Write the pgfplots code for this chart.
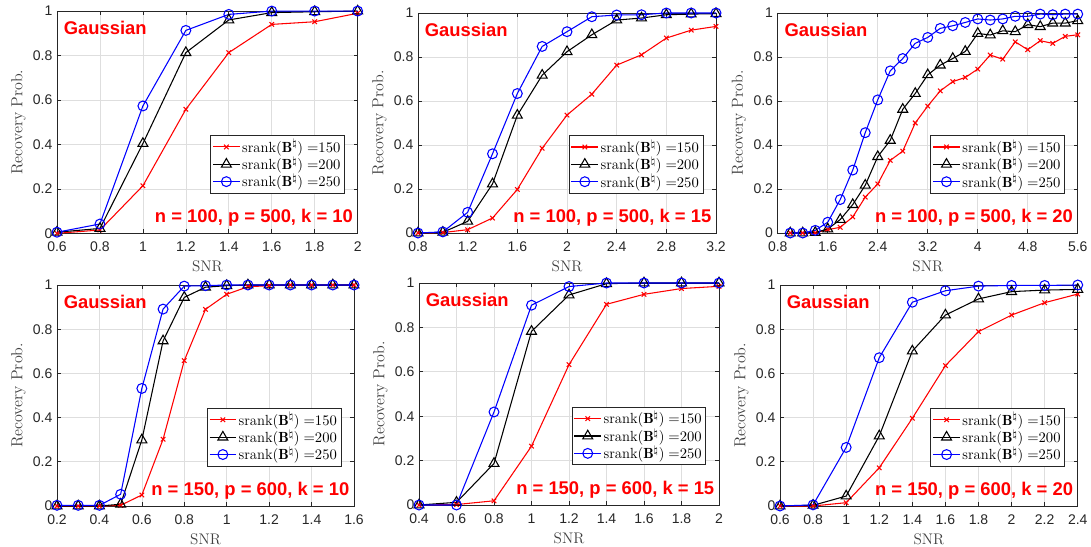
\documentclass[border=0pt]{standalone}
\usepackage{fontspec}
\usepackage{pgfplots}
\pgfplotsset{compat=1.18}
\newfontfamily\arialfont{Liberation Sans}

\newcommand{\tickfont}{\arialfont\fontsize{10.5}{12}\selectfont}
\newcommand{\notefont}{\arialfont\bfseries\fontsize{13.8}{16}\selectfont}

\pgfplotsset{
  panel/.style={
    scale only axis, anchor=south west, clip=false,
    ymin=0, ymax=1, ytick={0,0.2,0.4,0.6,0.8,1},
    grid=major, grid style={black!13, line width=0.5pt},
    axis line style={black!85, line width=0.5pt},
    tick style={black!85, line width=0.5pt},
    tick align=inside, major tick length=3pt,
    tick label style={font=\tickfont, text=black!85},
    x tick label style={yshift=-3pt},
    /pgf/number format/assume math mode=true,
    xlabel={SNR}, ylabel={Recovery Prob.},
    xlabel style={font=\fontsize{11.5}{13}\selectfont, text=black!75,
      at={([yshift=-25pt]axis description cs:0.5,0)}, anchor=center},
    ylabel style={font=\fontsize{12}{14}\selectfont, text=black!75,
      at={([xshift=-29pt]axis description cs:0,0.5)}, anchor=center},
    legend cell align=left,
    legend image code/.code={\draw[mark repeat=2,mark phase=2,##1] plot coordinates {(0pt,0pt) (10pt,0pt) (20pt,0pt)};},
    legend style={at={(0.957,0.18)}, anchor=south east, draw=black!85, line width=0.5pt,
      font=\fontsize{11}{13}\selectfont, inner sep=1.5pt, row sep=-1pt,
      nodes={inner sep=1.5pt, text=black}},
  },
  sr150/.style={red, line width=0.8pt, mark=x, mark size=2.4pt, mark options={solid}},
  sr200/.style={black, line width=0.8pt, mark=triangle, mark size=4.3pt, mark options={solid}},
  sr250/.style={blue, line width=0.8pt, mark=o, mark size=3.7pt, mark options={solid}},
}
\newcommand{\legs}{%
  \addlegendentry{$\mathrm{srank}(\mathbf{B}^{\natural})\;{=}150$}
  \addlegendentry{$\mathrm{srank}(\mathbf{B}^{\natural})\;{=}200$}
  \addlegendentry{$\mathrm{srank}(\mathbf{B}^{\natural})\;{=}250$}}
\newcommand{\notes}[1]{%
  \node[anchor=west, text=red, font=\notefont, inner sep=0pt] at (rel axis cs:0.022,0.925) {Gaussian};
  \node[anchor=east, text=red, font=\notefont, inner sep=0pt] at (rel axis cs:0.985,0.07) {#1};}

\begin{document}
\begin{tikzpicture}
\useasboundingbox (0pt,0pt) rectangle (818.25pt,409.5pt);

% ---- top row ----
\begin{axis}[panel, at={(42.75pt,234.5pt)}, width=225.5pt, height=166.7pt,
  xmin=0.6, xmax=2, xtick={0.6,0.8,1,1.2,1.4,1.6,1.8,2}]
\addplot[sr150] coordinates {(0.6,0) (0.8,0.015) (1.0,0.214) (1.2,0.558) (1.4,0.813) (1.6,0.94) (1.8,0.952) (2.0,0.99)};
\addplot[sr200] coordinates {(0.6,0.005) (0.8,0.022) (1.0,0.404) (1.2,0.813) (1.4,0.96) (1.6,0.993) (1.8,0.997) (2.0,1)};
\addplot[sr250] coordinates {(0.6,0.005) (0.8,0.042) (1.0,0.573) (1.2,0.913) (1.4,0.985) (1.6,1) (1.8,1) (2.0,1)};
\legs
\notes{n = 100, p = 500, k = 10}
\end{axis}

\begin{axis}[panel, at={(313.5pt,234.75pt)}, width=223.5pt, height=165pt,
  xmin=0.8, xmax=3.2, xtick={0.8,1.2,1.6,2,2.4,2.8,3.2}]
\addplot[sr150] coordinates {(0.8,0) (1.0,0.002) (1.2,0.015) (1.4,0.068) (1.6,0.198) (1.8,0.385) (2.0,0.536) (2.2,0.631) (2.4,0.763) (2.6,0.81) (2.8,0.886) (3.0,0.922) (3.2,0.939)};
\addplot[sr200] coordinates {(0.8,0) (1.0,0.003) (1.2,0.053) (1.4,0.223) (1.6,0.535) (1.8,0.717) (2.0,0.824) (2.2,0.901) (2.4,0.968) (2.6,0.977) (2.8,0.992) (3.0,0.995) (3.2,0.997)};
\addplot[sr250] coordinates {(0.8,0) (1.0,0.005) (1.2,0.094) (1.4,0.36) (1.6,0.634) (1.8,0.848) (2.0,0.915) (2.2,0.983) (2.4,0.991) (2.6,0.992) (2.8,1) (3.0,1) (3.2,1)};
\legs
\notes{n = 100, p = 500, k = 15}
\end{axis}

\begin{axis}[panel, at={(583.3pt,234.75pt)}, width=225pt, height=165pt,
  xmin=0.8, xmax=5.6, xtick={0.8,1.6,2.4,3.2,4,4.8,5.6}]
\addplot[sr150] coordinates {(1.0,0) (1.2,0) (1.4,0) (1.6,0.015) (1.8,0.026) (2.0,0.073) (2.2,0.163) (2.4,0.223) (2.6,0.33) (2.8,0.372) (3.0,0.5) (3.2,0.577) (3.4,0.646) (3.6,0.688) (3.8,0.707) (4.0,0.745) (4.2,0.809) (4.4,0.79) (4.6,0.869) (4.8,0.833) (5.0,0.874) (5.2,0.862) (5.4,0.894) (5.6,0.901)};
\addplot[sr200] coordinates {(1.0,0) (1.2,0) (1.4,0.002) (1.6,0.018) (1.8,0.061) (2.0,0.129) (2.2,0.217) (2.4,0.347) (2.6,0.421) (2.8,0.562) (3.0,0.634) (3.2,0.719) (3.4,0.763) (3.6,0.793) (3.8,0.825) (4.0,0.907) (4.2,0.9) (4.4,0.919) (4.6,0.915) (4.8,0.947) (5.0,0.938) (5.2,0.954) (5.4,0.954) (5.6,0.965)};
\addplot[sr250] coordinates {(1.0,0) (1.2,0) (1.4,0.012) (1.6,0.049) (1.8,0.152) (2.0,0.286) (2.2,0.456) (2.4,0.605) (2.6,0.737) (2.8,0.793) (3.0,0.862) (3.2,0.889) (3.4,0.93) (3.6,0.942) (3.8,0.957) (4.0,0.973) (4.2,0.968) (4.4,0.973) (4.6,0.985) (4.8,0.985) (5.0,0.995) (5.2,0.992) (5.4,0.995) (5.6,0.995)};
\legs
\notes{n = 100, p = 500, k = 20}
\end{axis}

% ---- bottom row ----
\begin{axis}[panel, at={(42.75pt,30pt)}, width=222.75pt, height=165.75pt,
  xmin=0.2, xmax=1.6, xtick={0.2,0.4,0.6,0.8,1,1.2,1.4,1.6}]
\addplot[sr150] coordinates {(0.2,0) (0.3,0) (0.4,0) (0.5,0.003) (0.6,0.05) (0.7,0.302) (0.8,0.658) (0.9,0.89) (1.0,0.958) (1.1,0.992) (1.2,0.997) (1.3,1) (1.4,1) (1.5,1) (1.6,1)};
\addplot[sr200] coordinates {(0.2,0) (0.3,0) (0.4,0) (0.5,0.008) (0.6,0.299) (0.7,0.747) (0.8,0.944) (0.9,0.99) (1.0,0.997) (1.1,1) (1.2,1) (1.3,1) (1.4,1) (1.5,1) (1.6,1)};
\addplot[sr250] coordinates {(0.2,0.003) (0.3,0.003) (0.4,0.003) (0.5,0.053) (0.6,0.532) (0.7,0.891) (0.8,0.995) (0.9,0.997) (1.0,1) (1.1,1) (1.2,1) (1.3,1) (1.4,1) (1.5,1) (1.6,1)};
\legs
\notes{n = 150, p = 600, k = 10}
\end{axis}

\begin{axis}[panel, at={(314.25pt,30.75pt)}, width=225pt, height=166.5pt,
  xmin=0.4, xmax=2, xtick={0.4,0.6,0.8,1,1.2,1.4,1.6,1.8,2}]
\addplot[sr150] coordinates {(0.4,0) (0.6,0.002) (0.8,0.019) (1.0,0.265) (1.2,0.632) (1.4,0.904) (1.6,0.949) (1.8,0.975) (2.0,0.985)};
\addplot[sr200] coordinates {(0.4,0) (0.6,0.012) (0.8,0.187) (1.0,0.782) (1.2,0.946) (1.4,0.997) (1.6,1) (1.8,1) (2.0,1)};
\addplot[sr250] coordinates {(0.4,0) (0.6,0) (0.8,0.419) (1.0,0.9) (1.2,0.984) (1.4,1) (1.6,1) (1.8,1) (2.0,1)};
\legs
\notes{n = 150, p = 600, k = 15}
\end{axis}

\begin{axis}[panel, at={(585pt,30pt)}, width=223.3pt, height=165.75pt,
  xmin=0.6, xmax=2.4, xtick={0.6,0.8,1,1.2,1.4,1.6,1.8,2,2.2,2.4}]
\addplot[sr150] coordinates {(0.6,0) (0.8,0) (1.0,0.015) (1.2,0.173) (1.4,0.397) (1.6,0.635) (1.8,0.789) (2.0,0.864) (2.2,0.92) (2.4,0.959)};
\addplot[sr200] coordinates {(0.6,0) (0.8,0.003) (1.0,0.045) (1.2,0.317) (1.4,0.701) (1.6,0.864) (1.8,0.937) (2.0,0.97) (2.2,0.977) (2.4,0.98)};
\addplot[sr250] coordinates {(0.6,0) (0.8,0.005) (1.0,0.265) (1.2,0.671) (1.4,0.922) (1.6,0.974) (1.8,0.995) (2.0,0.998) (2.2,0.998) (2.4,1)};
\legs
\notes{n = 150, p = 600, k = 20}
\end{axis}
\end{tikzpicture}
\end{document}
